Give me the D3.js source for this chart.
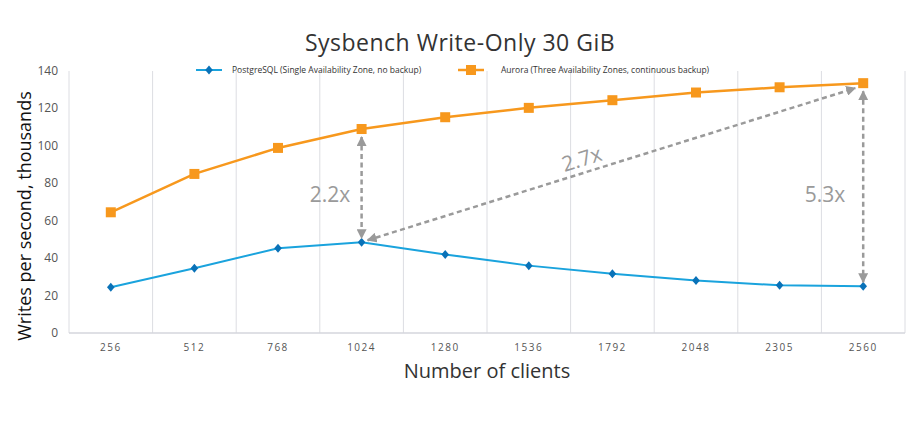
<!DOCTYPE html>
<html>
<head>
<meta charset="utf-8">
<script src="https://cdn.jsdelivr.net/npm/d3@7"></script>
<style>
  body { margin: 0; background: #fff; }
  svg text { font-family: "Open Sans", "Noto Sans", sans-serif; }
</style>
</head>
<body>
<svg id="chart" width="920" height="425"></svg>
<script>
var clients = ['256', '512', '768', '1024', '1280', '1536', '1792', '2048', '2305', '2560'];
var postgres = [24.4, 34.6, 45.3, 48.5, 42, 36, 31.7, 28, 25.5, 25];
var aurora = [64.5, 85, 98.9, 109, 115.3, 120.3, 124.4, 128.5, 131.3, 133.5];
var yTicks = [0, 20, 40, 60, 80, 100, 120, 140];
var seriesNames = ['PostgreSQL (Single Availability Zone, no backup)', 'Aurora (Three Availability Zones, continuous backup)'];

(function () {
  'use strict';

  var svg = d3.select('#chart');
  var pLeft = 69, pRight = 905, pTop = 71, pBottom = 333;
  var blue = '#1aa3dd', blueDark = '#0a72b8', orange = '#f7981d', gray = '#9a9a9a';

  var x = d3.scaleBand().domain(clients).range([pLeft, pRight]);
  var y = d3.scaleLinear().domain([0, 140]).range([pBottom, pTop]);
  var cx = function (c) { return x(c) + x.bandwidth() / 2; };

  // vertical grid at category boundaries
  var bounds = clients.map(function (c) { return x(c); }).concat([pRight]);
  svg.append('g').selectAll('line').data(bounds).enter().append('line')
    .attr('x1', function (d) { return d; }).attr('x2', function (d) { return d; })
    .attr('y1', pTop).attr('y2', pBottom)
    .attr('stroke', '#dcdde2').attr('stroke-width', 1);

  svg.append('line').attr('x1', pLeft).attr('x2', pRight).attr('y1', pBottom).attr('y2', pBottom)
    .attr('stroke', '#d4d6dc').attr('stroke-width', 1.5);

  // y ticks
  svg.append('g').selectAll('text').data(yTicks).enter().append('text')
    .attr('x', 58).attr('y', function (d) { return y(d) + 4; })
    .attr('text-anchor', 'end').attr('font-size', 12).attr('fill', '#555')
    .text(function (d) { return d; });

  // x ticks
  svg.append('g').selectAll('text').data(clients).enter().append('text')
    .attr('x', cx).attr('y', 351)
    .attr('text-anchor', 'middle').attr('font-size', 10).attr('fill', '#555')
    .attr('letter-spacing', 1.5)
    .text(function (d) { return d; });

  // titles
  svg.append('text').attr('x', 460).attr('y', 51).attr('text-anchor', 'middle')
    .attr('font-size', 23).attr('fill', '#333').attr('letter-spacing', 0.5)
    .text('Sysbench Write-Only 30 GiB');
  svg.append('text').attr('x', 487).attr('y', 378).attr('text-anchor', 'middle')
    .attr('font-size', 20).attr('fill', '#333')
    .text('Number of clients');
  svg.append('text').attr('transform', 'translate(31,' + ((pTop + pBottom) / 2 + 14) + ') rotate(-90)')
    .attr('text-anchor', 'middle').attr('font-size', 18).attr('fill', '#111')
    .text('Writes per second, thousands');

  // lines
  var line = d3.line().x(function (d, i) { return cx(clients[i]); }).y(function (d) { return y(d); });
  svg.append('path').datum(postgres).attr('d', line).attr('fill', 'none')
    .attr('stroke', blue).attr('stroke-width', 2);
  svg.append('path').datum(aurora).attr('d', line).attr('fill', 'none')
    .attr('stroke', orange).attr('stroke-width', 2.5);

  var diamond = 'M0,-4.5 L3.8,0 L0,4.5 L-3.8,0 Z';
  svg.append('g').selectAll('path').data(postgres).enter().append('path')
    .attr('d', diamond)
    .attr('transform', function (d, i) { return 'translate(' + cx(clients[i]) + ',' + y(d) + ')'; })
    .attr('fill', blueDark);
  svg.append('g').selectAll('rect').data(aurora).enter().append('rect')
    .attr('x', function (d, i) { return cx(clients[i]) - 5; })
    .attr('y', function (d) { return y(d) - 5; })
    .attr('width', 10).attr('height', 10).attr('fill', orange);

  // legend
  var lg = svg.append('g');
  lg.append('line').attr('x1', 196).attr('x2', 222).attr('y1', 70).attr('y2', 70).attr('stroke', blue).attr('stroke-width', 2);
  lg.append('path').attr('d', diamond).attr('transform', 'translate(209,70)').attr('fill', blueDark);
  lg.append('text').attr('x', 232).attr('y', 73).attr('font-size', 8.5).attr('fill', '#333').text(seriesNames[0]);
  lg.append('line').attr('x1', 458).attr('x2', 484).attr('y1', 70).attr('y2', 70).attr('stroke', orange).attr('stroke-width', 2.5);
  lg.append('rect').attr('x', 466).attr('y', 65).attr('width', 10).attr('height', 10).attr('fill', orange);
  lg.append('text').attr('x', 501).attr('y', 73).attr('font-size', 8.5).attr('fill', '#333').text(seriesNames[1]);

  // annotations
  var defs = svg.append('defs');
  defs.append('marker').attr('id', 'ah').attr('viewBox', '0 0 10 10')
    .attr('refX', 9).attr('refY', 5).attr('markerWidth', 4).attr('markerHeight', 4)
    .attr('orient', 'auto-start-reverse')
    .append('path').attr('d', 'M0,0 L10,5 L0,10 Z').attr('fill', gray);

  function arrow(x1, y1, x2, y2) {
    svg.append('line').attr('x1', x1).attr('y1', y1).attr('x2', x2).attr('y2', y2)
      .attr('stroke', gray).attr('stroke-width', 2.5).attr('stroke-dasharray', '5,3.5')
      .attr('marker-start', 'url(#ah)').attr('marker-end', 'url(#ah)');
  }
  var i1 = clients.indexOf('1024'), i2 = clients.indexOf('2560');
  arrow(cx('1024'), y(aurora[i1]) + 8, cx('1024'), y(postgres[i1]) - 4);
  arrow(cx('1024') + 6, y(postgres[i1]) - 2, cx('2560') - 8, y(aurora[i2]) + 5);
  arrow(cx('2560'), y(aurora[i2]) + 8, cx('2560'), y(postgres[i2]) - 4);

  function label(t, lx, ly, rot) {
    svg.append('text').attr('transform', 'translate(' + lx + ',' + ly + ') rotate(' + rot + ')')
      .attr('text-anchor', 'middle').attr('font-size', 21).attr('fill', gray).text(t);
  }
  label('2.2x', 330, 202, 0);
  label('2.7x', 584, 166, -17);
  label('5.3x', 825, 202, 0);
})();
</script>
</body>
</html>
